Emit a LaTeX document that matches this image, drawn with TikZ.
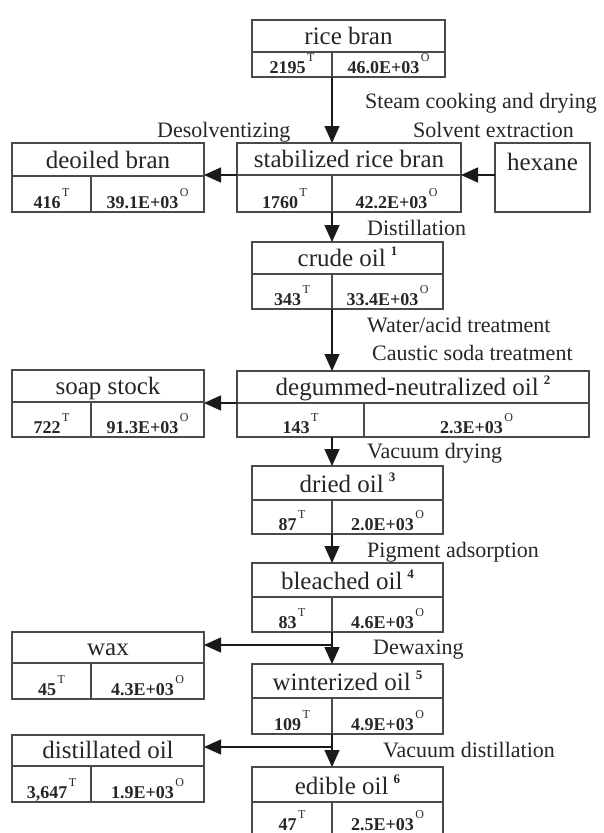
\documentclass[tikz,border=0pt]{standalone}
\usepackage{fontspec}
\setmainfont{Liberation Serif}
\usetikzlibrary{arrows.meta}
\definecolor{boxc}{HTML}{4A4A4A}
\definecolor{arrc}{HTML}{1A1A1A}
\definecolor{txtc}{HTML}{262626}
\tikzset{
 boxst/.style={draw=boxc, line width=1.2pt, inner sep=0pt, outer sep=0pt},
 divst/.style={draw=boxc, line width=1.2pt},
 ttl/.style={anchor=base, inner sep=0pt, font=\fontsize{25}{25}\selectfont, text=txtc},
 numst/.style={anchor=base, inner sep=0pt, font=\fontsize{18}{18}\selectfont\bfseries, text=txtc},
 lbl/.style={anchor=base west, inner sep=0pt, font=\fontsize{22}{22}\selectfont, text=txtc},
 flow/.style={draw=arrc, line width=1.4pt, -{Triangle[length=17pt,width=15pt]}},
}
\newcommand\supT{\kern1.5pt\raisebox{12pt}{\fontsize{12}{12}\selectfont\mdseries T}}
\newcommand\supO{\kern1.5pt\raisebox{12pt}{\fontsize{12}{12}\selectfont\mdseries O}}
\newcommand\tsup[1]{\kern5pt\raisebox{11pt}{\fontsize{13}{13}\selectfont\bfseries #1}}
% #1 name #2 x1 #3 x2 #4 y1 #5 ydiv #6 y2 #7 xv #8 title
\newcommand\procbox[8]{%
  \node[boxst, minimum width={(#3-#2)*1pt}, minimum height={(#6-#4)*1pt}] (#1) at ({(#2+#3)/2},{(#4+#6)/2}) {};
  \draw[divst] (#2,#5) -- (#3,#5);
  \draw[divst] (#7,#5) -- (#7,#6);
  \coordinate (#1-vt) at (#7,#5);
  \coordinate (#1-vb) at (#7,#6);
  \node[ttl] (#1-t) at ({(#2+#3)/2},{#5-8}) {#8};
}
% #1 name #2 x1 #3 xv #4 x2 #5 baseline #6 left #7 right
\newcommand\procnums[7]{%
  \node[numst] (#1-l) at ({(#2+#3)/2},#5) {#6\supT};
  \node[numst] (#1-r) at ({(#3+#4)/2},#5) {#7\supO};
}
\begin{document}
\begin{tikzpicture}[x=1pt,y=-1pt]
\useasboundingbox (0,0) rectangle (603,833);
\clip (0,0) rectangle (603,833);
\fill[white] (0,0) rectangle (603,833);

% boxes
\procbox{rice}{252}{445}{20}{52}{77}{332}{rice bran}
\procnums{rice}{252}{332}{445}{73}{2195}{46.0E+03}

\procbox{deoiled}{12}{204}{143}{176}{212}{91}{deoiled bran}
\procnums{deoiled}{12}{91}{204}{208}{416}{39.1E+03}

\procbox{stab}{237}{461}{143}{175}{212}{332}{stabilized rice bran}
\procnums{stab}{237}{332}{461}{208}{1760}{42.2E+03}

\node[boxst, minimum width=95pt, minimum height=69pt] (hex) at (542.5,177.5) {};
\node[ttl] (hex-t) at (542.5,170) {hexane};

\procbox{crude}{252}{443}{242}{274}{309}{332}{crude oil\tsup{1}}
\procnums{crude}{252}{332}{443}{305}{343}{33.4E+03}

\procbox{soap}{12}{204}{370}{402}{437}{91}{soap stock}
\procnums{soap}{12}{91}{204}{433}{722}{91.3E+03}

\procbox{degum}{237}{589}{371}{403}{437}{364}{degummed-neutralized oil\tsup{2}}
\procnums{degum}{237}{364}{589}{433}{143}{2.3E+03}

\procbox{dried}{252}{443}{466}{500}{534}{332}{dried oil\tsup{3}}
\procnums{dried}{252}{332}{443}{530}{87}{2.0E+03}

\procbox{bleach}{252}{443}{563}{597}{632}{332}{bleached oil\tsup{4}}
\procnums{bleach}{252}{332}{443}{628}{83}{4.6E+03}

\procbox{wax}{12}{204}{632}{663}{699}{91}{wax}
\procnums{wax}{12}{91}{204}{695}{45}{4.3E+03}

\procbox{winter}{252}{443}{664}{698}{734}{332}{winterized oil\tsup{5}}
\procnums{winter}{252}{332}{443}{730}{109}{4.9E+03}

\procbox{distil}{12}{204}{735}{766}{802}{91}{distillated oil}
\procnums{distil}{12}{91}{204}{798}{3,647}{1.9E+03}

\procbox{edible}{252}{443}{767}{802}{837}{332}{edible oil\tsup{6}}
\procnums{edible}{252}{332}{443}{830}{47}{2.5E+03}

% labels
\node[lbl] (l-steam) at (365,108) {Steam cooking and drying};
\node[lbl] (l-solv) at (413,137) {Solvent extraction};
\node[lbl] (l-desolv) at (157,137) {Desolventizing};
\node[lbl] (l-dist) at (367,235) {Distillation};
\node[lbl] (l-water) at (367,332) {Water/acid treatment};
\node[lbl] (l-caus) at (372,360) {Caustic soda treatment};
\node[lbl] (l-vacd) at (367,458) {Vacuum drying};
\node[lbl] (l-pig) at (367,557) {Pigment adsorption};
\node[lbl] (l-dewax) at (373,654) {Dewaxing};
\node[lbl] (l-vacdist) at (383,757) {Vacuum distillation};

% connectors
\draw[flow] (rice-vb) -- (rice-vb |- stab.north);
\draw[flow] (stab.west |- stab-vt) -- (deoiled.east |- stab-vt);
\draw[flow] (hex.west |- stab-vt) -- (stab.east |- stab-vt);
\draw[flow] (stab-vb) -- (stab-vb |- crude.north);
\draw[flow] (crude-vb) -- (crude-vb |- degum.north);
\draw[flow] (degum.west |- degum-vt) -- (soap.east |- degum-vt);
\draw[flow] (degum.south -| dried-vt) -- (dried.north -| dried-vt);
\draw[flow] (dried-vb) -- (dried-vb |- bleach.north);
\draw[flow] (bleach-vb) -- (bleach-vb |- winter.north);
\coordinate (j1) at (332,645);
\draw[flow] (j1) -- (j1 -| wax.east);
\draw[flow] (winter-vb) -- (winter-vb |- edible.north);
\coordinate (j2) at (332,747);
\draw[flow] (j2) -- (j2 -| distil.east);
\end{tikzpicture}
\end{document}
